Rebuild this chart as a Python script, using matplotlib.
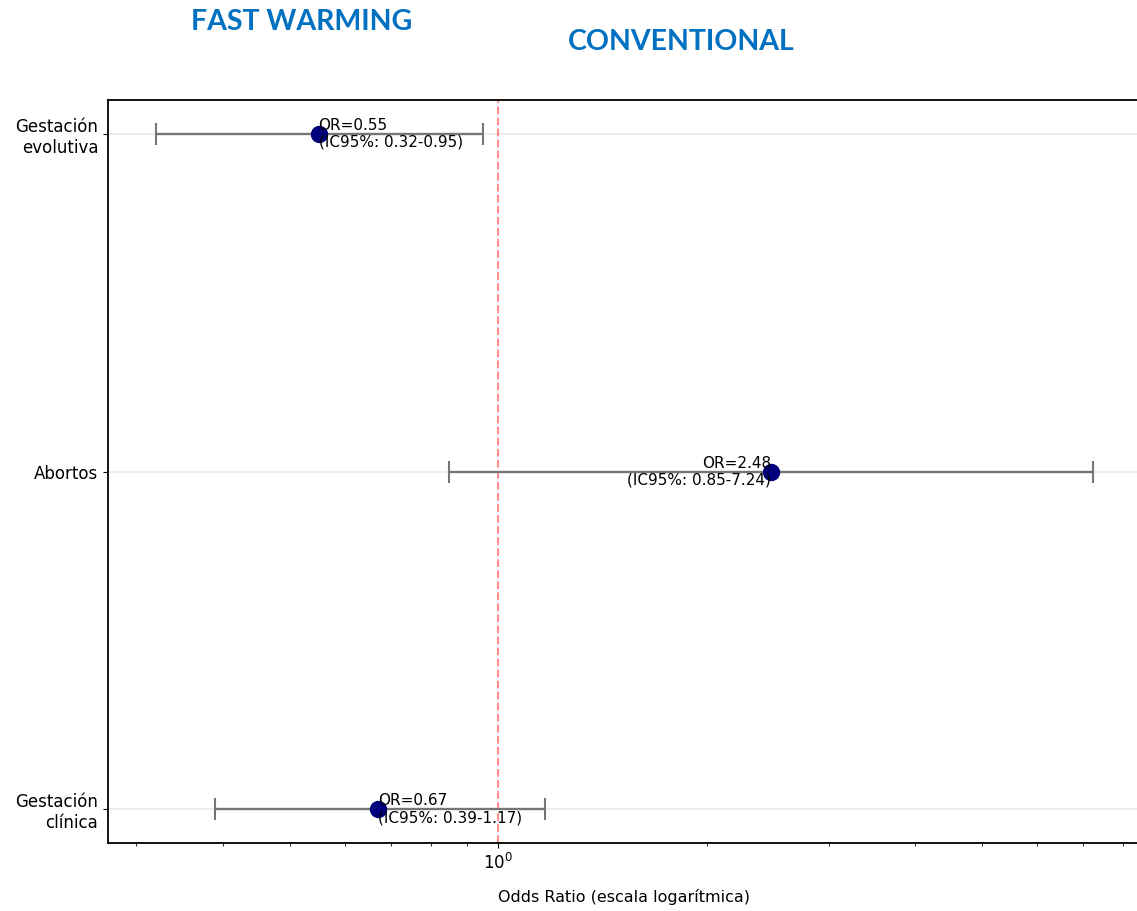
import matplotlib.pyplot as plt
from matplotlib.ticker import NullFormatter, LogLocator

# -------------------------------
# DATA
# -------------------------------
outcomes = ["Gestación\nclínica", "Abortos", "Gestación\nevolutiva"]
odds_ratio = [0.67, 2.48, 0.55]
ci_low = [0.39, 0.85, 0.32]
ci_high = [1.17, 7.24, 0.95]

# -------------------------------
# FIGURE
# -------------------------------
fig = plt.figure(figsize=(11.37, 9.11), dpi=100)
ax = fig.add_axes([108 / 1137, 68 / 911, (1140 - 108) / 1137, (843 - 100) / 911])

ypos = list(range(len(outcomes)))
err_lo = [o - l for o, l in zip(odds_ratio, ci_low)]
err_hi = [h - o for o, h in zip(odds_ratio, ci_high)]

ax.errorbar(odds_ratio, ypos, xerr=[err_lo, err_hi], fmt='none',
            ecolor='#767676', elinewidth=1.7, capsize=8, capthick=1.5, zorder=2)
ax.plot(odds_ratio, ypos, 'o', color='#00007a', markersize=11.5, zorder=3)

# Reference line at OR = 1
ax.axvline(1, color='red', linestyle='--', alpha=0.45, linewidth=1.5, zorder=1)

# Labels next to each point
for o, y, l, h in zip(odds_ratio, ypos, ci_low, ci_high):
    txt = f"OR={o:.2f}\n(IC95%: {l:.2f}-{h:.2f})"
    ha = 'left' if o < 1 else 'right'
    ax.text(o, y, txt, ha=ha, va='center', multialignment=ha,
            fontsize=11, linespacing=1.15, zorder=4)

ax.set_xscale('log')
ax.set_xlim(0.273, 10 ** ((1140 - 498) / 692.5))
ax.xaxis.set_minor_locator(LogLocator(base=10, subs=range(2, 10)))
ax.xaxis.set_minor_formatter(NullFormatter())

ax.set_yticks(ypos)
ax.set_yticklabels(outcomes, fontsize=12)
ax.tick_params(axis='x', labelsize=12)
ax.set_xlabel("Odds Ratio (escala logarítmica)", fontsize=11.5, labelpad=12)

ax.grid(axis='y', color='#ebebeb', linewidth=1.3)
ax.set_axisbelow(True)
for s in ax.spines.values():
    s.set_linewidth(1.3)

# Group headings above the plot
fig.text(302 / 1137, 1 - 22 / 911, "FAST WARMING", fontsize=20.5, fontweight='bold',
         family='Lato', color='#0070c0', ha='center', va='center')
fig.text(681 / 1137, 1 - 42 / 911, "CONVENTIONAL", fontsize=20.5, fontweight='bold',
         family='Lato', color='#0070c0', ha='center', va='center')

fig.savefig("out.png", dpi=100)
